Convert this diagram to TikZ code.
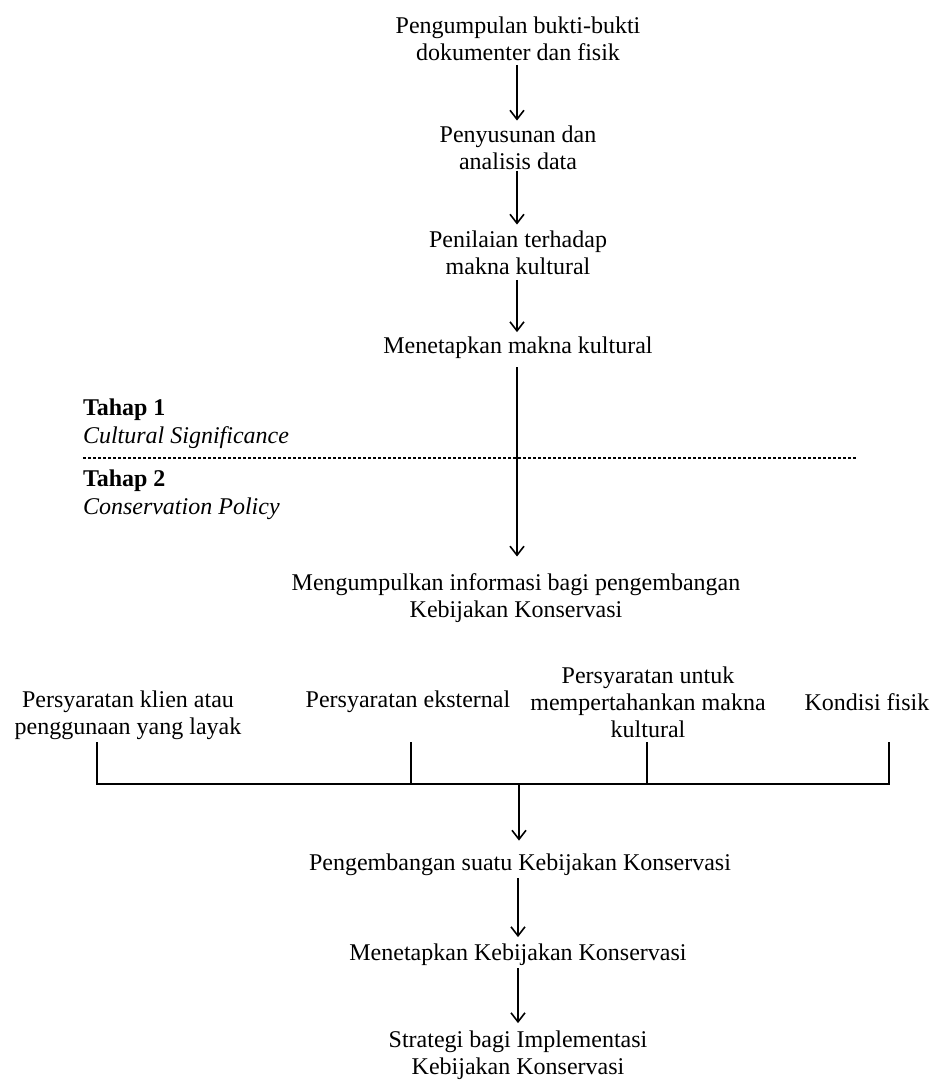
\documentclass[tikz,border=0pt]{standalone}
\usepackage{fontspec}
\setmainfont{Liberation Serif}
\usetikzlibrary{arrows.meta}
\begin{document}
\begin{tikzpicture}[x=1pt,y=-1pt,
  txt/.style={inner sep=0pt,outer sep=0pt,align=center,font=\fontsize{24}{27}\selectfont},
  lbl/.style={inner sep=0pt,outer sep=0pt,align=left,font=\fontsize{24}{28}\selectfont},
  arr/.style={line width=1.4pt,-{Straight Barb[length=9pt,width=14pt,line width=1.6pt]}},
  ln/.style={line width=1.4pt}]
\useasboundingbox (0,0) rectangle (941,1082);
\node[txt] (n1) at (518,38.5) {Pengumpulan bukti-bukti\\dokumenter dan fisik};
\node[txt] (n2) at (518,147.5) {Penyusunan dan\\analisis data};
\node[txt] (n3) at (518,252.5) {Penilaian terhadap\\makna kultural};
\node[txt] (n4) at (518,348) {Menetapkan makna kultural};
\node[txt] (n5) at (516,598) {Mengumpulkan informasi bagi pengembangan\\Kebijakan Konservasi};
\node[lbl,anchor=west] (t1) at (83,424) {\textbf{Tahap 1}\\\textit{Cultural Significance}};
\node[lbl,anchor=west] (t2) at (83,495) {\textbf{Tahap 2}\\\textit{Conservation Policy}};
\coordinate (d1) at (83,458);
\coordinate (d2) at (857,458);
\draw[line width=1.4pt,dash pattern=on 3pt off 2pt] (d1) -- (d2);
\node[txt] (p1) at (128,715) {Persyaratan klien atau\\penggunaan yang layak};
\node[txt] (p2) at (408,702) {Persyaratan eksternal};
\node[txt] (p3) at (648,702) {Persyaratan untuk\\mempertahankan makna\\kultural};
\node[txt] (p4) at (867,702) {Kondisi fisik};
\node[txt] (n6) at (520,865) {Pengembangan suatu Kebijakan Konservasi};
\node[txt] (n7) at (518,955) {Menetapkan Kebijakan Konservasi};
\node[txt] (n8) at (518,1055.5) {Strategi bagi Implementasi\\Kebijakan Konservasi};
% bracket
\coordinate (k1) at (97,742); \coordinate (b1) at (97,784);
\coordinate (k2) at (411,742); \coordinate (b2) at (411,784);
\coordinate (k3) at (647,742); \coordinate (b3) at (647,784);
\coordinate (k4) at (889,742); \coordinate (b4) at (889,784);
\coordinate (bc) at (519,784);
\draw[ln] (k1) -- (b1) -- (b4) -- (k4);
\draw[ln] (k2) -- (b2);
\draw[ln] (k3) -- (b3);
% arrows
\draw[arr,shorten <=4.5pt,shorten >=5pt] (n1.south -| 517,0) -- (n2.north -| 517,0);
\draw[arr,shorten <=1.5pt,shorten >=6pt] (n2.south -| 517,0) -- (n3.north -| 517,0);
\draw[arr,shorten <=5.5pt,shorten >=5pt] (n3.south -| 517,0) -- (n4.north -| 517,0);
\draw[arr,shorten <=8.4pt,shorten >=17pt] (n4.south -| 517,0) -- (n5.north -| 517,0);
\draw[arr,shorten >=13.5pt] (bc) -- (bc |- n6.north);
\draw[arr,shorten <=2.4pt,shorten >=7pt] (n6.south -| 518,0) -- (n7.north -| 518,0);
\draw[arr,shorten <=2.4pt,shorten >=8pt] (n7.south -| 518,0) -- (n8.north -| 518,0);
\end{tikzpicture}
\end{document}
